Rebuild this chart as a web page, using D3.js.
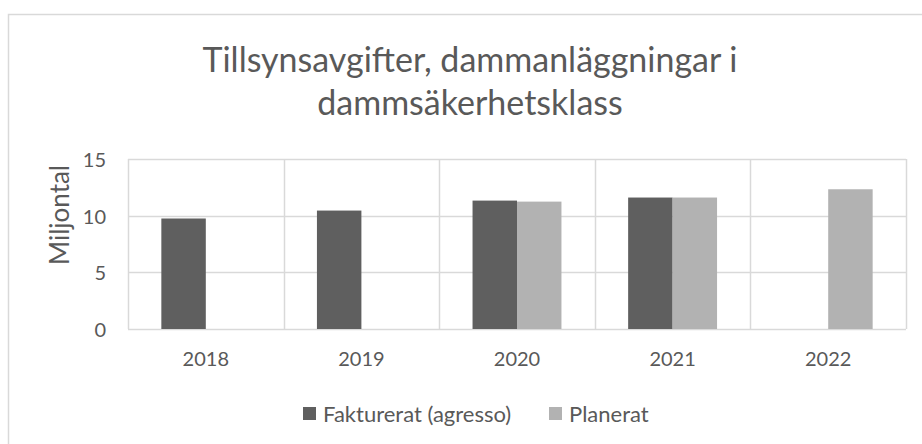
<!DOCTYPE html>
<html lang="sv">
  <head>
    <meta charset="UTF-8" />
    <title>Tillsynsavgifter, dammanläggningar i dammsäkerhetsklass</title>
    <script src="https://cdnjs.cloudflare.com/ajax/libs/d3/7.8.5/d3.min.js"></script>
    <style>
      html, body { margin: 0; padding: 0; background: #fff; }
      svg { display: block; font-family: Lato, "Open Sans", sans-serif; }
    </style>
  </head>
  <body>
    <figure id="chart" style="margin:0"></figure>

    <script>
      /** Data */
      const years = ["2018", "2019", "2020", "2021", "2022"];
      const seriesNames = ["Fakturerat (agresso)", "Planerat"];
      const fakturerat = [9.75, 10.45, 11.33, 11.6, null];
      const planerat = [null, null, 11.24, 11.6, 12.33];
      const yTicks = [0, 5, 10, 15];
      const titleLines = ["Tillsynsavgifter, dammanläggningar i", "dammsäkerhetsklass"];

      /** Graph configs */
      const width = 922;
      const height = 444;
      const plot = { left: 128, right: 906, top: 159, bottom: 329 };
      const colors = ["#5f5f5f", "#b2b2b2"];
      const textColor = "#595959";
      const gridColor = "#d9d9d9";
      const tickFont = "20px";

      const svg = d3
        .select("#chart")
        .append("svg")
        .attr("width", width)
        .attr("height", height);

      // chart area border (runs off the right and bottom edge)
      svg
        .append("rect")
        .attr("x", 8.5)
        .attr("y", 14.5)
        .attr("width", width + 20)
        .attr("height", height + 20)
        .attr("fill", "#fff")
        .attr("stroke", gridColor)
        .attr("stroke-width", 1.5);

      /** Scales */
      const xScale = d3
        .scaleBand()
        .domain(years)
        .range([plot.left, plot.right])
        .paddingInner(0)
        .paddingOuter(0);

      // two bars side by side, gap width 150%
      const xInner = d3
        .scaleBand()
        .domain([0, 1])
        .range([0, xScale.bandwidth()])
        .paddingOuter(0.75)
        .paddingInner(0);

      const yScale = d3.scaleLinear().domain([0, 15]).range([plot.bottom, plot.top]);

      /** Gridlines */
      const grid = svg.append("g");
      grid
        .selectAll("line.h")
        .data(yTicks)
        .enter()
        .append("line")
        .attr("x1", plot.left)
        .attr("x2", plot.right)
        .attr("y1", (d) => Math.round(yScale(d)) + 0.5)
        .attr("y2", (d) => Math.round(yScale(d)) + 0.5)
        .attr("stroke", gridColor)
        .attr("stroke-width", 1.5);

      const bounds = years.map((y) => xScale(y)).concat([plot.right]);
      grid
        .selectAll("line.v")
        .data(bounds)
        .enter()
        .append("line")
        .attr("x1", (d) => Math.round(d) + 0.5)
        .attr("x2", (d) => Math.round(d) + 0.5)
        .attr("y1", plot.top)
        .attr("y2", plot.bottom)
        .attr("stroke", gridColor)
        .attr("stroke-width", 1.5);

      /** Bars */
      const series = [fakturerat, planerat];
      series.forEach((vals, si) => {
        svg
          .append("g")
          .selectAll("rect")
          .data(years.map((y, i) => ({ year: y, value: vals[i] })).filter((d) => d.value != null))
          .enter()
          .append("rect")
          .attr("x", (d) => xScale(d.year) + xInner(si))
          .attr("width", xInner.bandwidth())
          .attr("y", (d) => yScale(d.value))
          .attr("height", (d) => yScale(0) - yScale(d.value))
          .attr("fill", colors[si]);
      });

      /** Axes */
      const yAxis = d3.axisLeft(yScale).tickValues(yTicks).tickSize(0).tickPadding(22);
      const yG = svg.append("g").attr("transform", `translate(${plot.left},1)`).call(yAxis);
      yG.select(".domain").remove();
      yG.selectAll("text")
        .attr("fill", textColor)
        .style("font-size", tickFont)
        .style("font-family", "Lato, sans-serif");

      const xAxis = d3.axisBottom(xScale).tickSize(0).tickPadding(23);
      const xG = svg.append("g").attr("transform", `translate(0,${plot.bottom})`).call(xAxis);
      xG.select(".domain").remove();
      xG.selectAll("text")
        .attr("fill", textColor)
        .style("font-size", tickFont)
        .style("font-family", "Lato, sans-serif");

      /** Axis title */
      svg
        .append("text")
        .attr("transform", "translate(69, 215) rotate(-90)")
        .attr("text-anchor", "middle")
        .attr("fill", textColor)
        .style("font-size", "26px")
        .text("Miljontal");

      /** Title */
      svg
        .append("g")
        .selectAll("text")
        .data(titleLines)
        .enter()
        .append("text")
        .attr("x", 470)
        .attr("y", (d, i) => 72 + i * 43)
        .attr("text-anchor", "middle")
        .attr("fill", textColor)
        .style("font-size", "34px")
        .text((d) => d);

      /** Legend */
      const legendX = [303, 549];
      const legend = svg
        .append("g")
        .selectAll("g")
        .data(seriesNames)
        .enter()
        .append("g")
        .attr("transform", (d, i) => `translate(${legendX[i]}, 407)`);
      legend
        .append("rect")
        .attr("width", 13)
        .attr("height", 13)
        .attr("fill", (d, i) => colors[i]);
      legend
        .append("text")
        .attr("x", 20)
        .attr("y", 14.5)
        .attr("fill", textColor)
        .style("font-size", "22px")
        .text((d) => d);
    </script>
  </body>
</html>
